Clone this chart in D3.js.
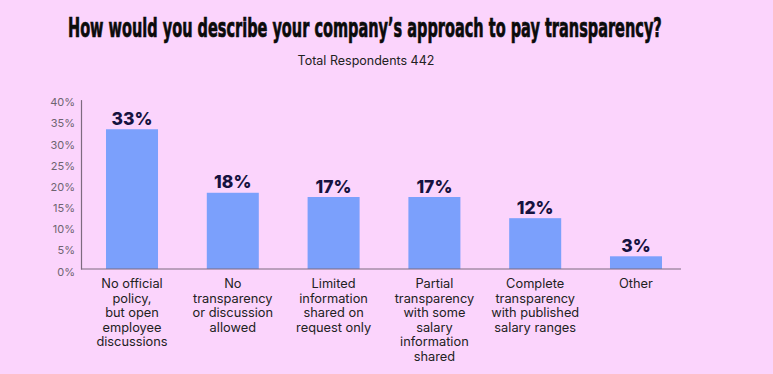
<!DOCTYPE html>
<html>
<head>
<meta charset="utf-8">
<script src="https://cdn.jsdelivr.net/npm/d3@7"></script>
<style>
  html, body { margin: 0; padding: 0; background: #fbd4fc; }
  svg { display: block; }
</style>
</head>
<body>
<div id="chart"></div>
<script>
// chart data
var categories = [
  ["No official", "policy,", "but open", "employee", "discussions"],
  ["No", "transparency", "or discussion", "allowed"],
  ["Limited", "information", "shared on", "request only"],
  ["Partial", "transparency", "with some", "salary", "information", "shared"],
  ["Complete", "transparency", "with published", "salary ranges"],
  ["Other"]
];
var values = [33, 18, 17, 17, 12, 3];
var yTicks = [0, 5, 10, 15, 20, 25, 30, 35, 40];

var width = 773, height = 374;
var margin = {top: 99.6, left: 81, right: 92, bottom: 105};

var svg = d3.select("#chart").append("svg")
  .attr("width", width)
  .attr("height", height);

svg.append("rect").attr("width", width).attr("height", height).attr("fill", "#fbd4fc");

// title, squeezed to the condensed look of the original
var title = svg.append("text")
  .style("font-family", "'Liberation Sans Narrow', 'DejaVu Sans Condensed', sans-serif")
  .style("font-weight", "bold")
  .style("font-size", "27px")
  .attr("fill", "#0b0b0b")
  .attr("stroke", "#0b0b0b")
  .attr("stroke-width", 0.7)
  .text("How would you describe your company\u2019s approach to pay transparency?");
var tw = title.node().getComputedTextLength();
title.attr("transform", "translate(68,37) scale(" + (594 / tw) + ",1)");

svg.append("text")
  .attr("x", 366).attr("y", 65)
  .attr("text-anchor", "middle")
  .style("font-family", "Inter, sans-serif")
  .style("font-size", "12.5px")
  .attr("fill", "#222")
  .text("Total Respondents 442");

var x = d3.scaleBand()
  .domain(d3.range(categories.length))
  .range([margin.left, 687])
  .paddingInner(0.484)
  .paddingOuter(0.248);

var y = d3.scaleLinear()
  .domain([0, 40])
  .range([height - margin.bottom, margin.top]);

// y axis
var yAxis = svg.append("g")
  .attr("transform", "translate(" + margin.left + ",0)")
  .call(d3.axisLeft(y).tickValues(yTicks).tickSize(0).tickPadding(6).tickFormat(function (d) { return d + "%"; }));
yAxis.select(".domain").attr("stroke", "#7d6a7f").attr("stroke-width", 1.2);
yAxis.selectAll("text")
  .attr("dy", "0.55em")
  .style("font-family", "Inter, sans-serif")
  .style("font-size", "11px")
  .attr("fill", "#6e6470");

// bars
svg.selectAll("rect.bar")
  .data(values)
  .enter().append("rect")
  .attr("class", "bar")
  .attr("x", function (d, i) { return x(i); })
  .attr("y", function (d) { return y(d); })
  .attr("width", x.bandwidth())
  .attr("height", function (d) { return y(0) - y(d); })
  .attr("fill", "#7ba0fc");

// x axis line
svg.append("line")
  .attr("x1", margin.left).attr("x2", width - margin.right)
  .attr("y1", y(0)).attr("y2", y(0))
  .attr("stroke", "#7d6a7f").attr("stroke-width", 1.2);

// value labels
svg.selectAll("text.val")
  .data(values)
  .enter().append("text")
  .attr("class", "val")
  .attr("x", function (d, i) { return x(i) + x.bandwidth() / 2; })
  .attr("y", function (d) { return y(d) - 4.5; })
  .attr("text-anchor", "middle")
  .style("font-family", "Inter, sans-serif")
  .style("font-weight", "800")
  .style("font-size", "17.5px")
  .attr("fill", "#16123f")
  .text(function (d) { return d + "%"; });

// category labels
var cat = svg.selectAll("text.cat")
  .data(categories)
  .enter().append("text")
  .attr("class", "cat")
  .attr("text-anchor", "middle")
  .style("font-family", "Inter, sans-serif")
  .style("font-size", "12.8px")
  .attr("fill", "#222");

cat.each(function (lines, i) {
  d3.select(this).selectAll("tspan")
    .data(lines)
    .enter().append("tspan")
    .attr("x", x(i) + x.bandwidth() / 2)
    .attr("y", function (d, j) { return y(0) + 19 + j * 14.6; })
    .text(function (d) { return d; });
});
</script>
</body>
</html>
